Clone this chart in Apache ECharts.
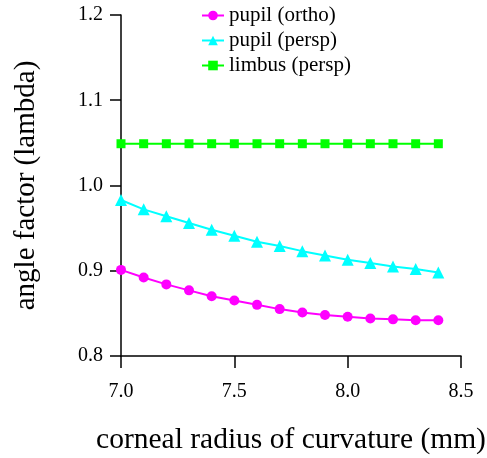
<!DOCTYPE html>
<html><head><meta charset="utf-8">
<script src="https://cdn.jsdelivr.net/npm/echarts@6/dist/echarts.min.js"></script>
<style>html,body{margin:0;padding:0;background:#fff;overflow:hidden}#c{width:487px;height:458px;display:block}</style>
</head><body><div id="c"></div>
<script>
var xValues = [7.0, 7.1, 7.2, 7.3, 7.4, 7.5, 7.6, 7.7, 7.8, 7.9, 8.0, 8.1, 8.2, 8.3, 8.4];
var pupilOrtho = [0.901, 0.892, 0.884, 0.877, 0.870, 0.865, 0.860, 0.855, 0.851, 0.848, 0.846, 0.844, 0.843, 0.842, 0.842];
var pupilPersp = [0.983, 0.972, 0.964, 0.956, 0.948, 0.941, 0.934, 0.929, 0.923, 0.918, 0.913, 0.909, 0.905, 0.902, 0.898];
var limbusPersp = [1.049, 1.049, 1.049, 1.049, 1.049, 1.049, 1.049, 1.049, 1.049, 1.049, 1.049, 1.049, 1.049, 1.049, 1.049];
var seriesNames = ['pupil (ortho)', 'pupil (persp)', 'limbus (persp)'];
var xTicks = [7.0, 7.5, 8.0, 8.5];
var yTicks = [0.8, 0.9, 1.0, 1.1, 1.2];

function pairs(ys){ return xValues.map(function(x,i){ return [x, ys[i]]; }); }
var font = '"Liberation Serif", "DejaVu Serif", serif';
var chart = echarts.init(document.getElementById('c'), null, { width: 487, height: 458 });
chart.setOption({
  animation: false,
  backgroundColor: '#fff',
  textStyle: { fontFamily: font },
  grid: { left: 121, right: 26, top: 15, bottom: 102, containLabel: false, outerBoundsMode: 'none' },
  legend: {
    orient: 'vertical', left: 201, top: 5, padding: 0, itemGap: 4, itemWidth: 22, itemHeight: 12,
    textStyle: { fontFamily: font, fontSize: 21, color: '#000' },
    data: seriesNames
  },
  xAxis: {
    type: 'value', min: 7.0, max: 8.5, interval: 0.5,
    name: 'corneal radius of curvature (mm)', nameLocation: 'middle', nameGap: 69,
    nameTextStyle: { fontFamily: font, fontSize: 29.5, color: '#000' },
    axisLine: { lineStyle: { color: '#000', width: 1.5 } },
    axisTick: { length: 12, lineStyle: { color: '#000', width: 1.5 } },
    axisLabel: { fontFamily: font, fontSize: 20, color: '#000', margin: 26,
      formatter: function(v){ return v.toFixed(1); } },
    splitLine: { show: false }
  },
  yAxis: {
    type: 'value', min: 0.8, max: 1.2, interval: 0.1,
    name: 'angle factor (lambda)', nameLocation: 'middle', nameGap: 80,
    nameTextStyle: { fontFamily: font, fontSize: 29, color: '#000' },
    axisLine: { show: true, lineStyle: { color: '#000', width: 1.5 } },
    axisTick: { show: true, length: 11, lineStyle: { color: '#000', width: 1.5 } },
    axisLabel: { fontFamily: font, fontSize: 20, color: '#000', margin: 18,
      formatter: function(v){ return v.toFixed(1); } },
    splitLine: { show: false }
  },
  series: [
    { name: seriesNames[0], type: 'line', data: pairs(pupilOrtho), color: '#ff00ff',
      symbol: 'circle', symbolSize: 10, lineStyle: { width: 2 }, itemStyle: { color: '#ff00ff' } },
    { name: seriesNames[1], type: 'line', data: pairs(pupilPersp), color: '#00ffff',
      symbol: 'triangle', symbolSize: 12, lineStyle: { width: 2 }, itemStyle: { color: '#00ffff' } },
    { name: seriesNames[2], type: 'line', data: pairs(limbusPersp), color: '#00ff00',
      symbol: 'rect', symbolSize: 9, lineStyle: { width: 2 }, itemStyle: { color: '#00ff00' } }
  ]
});
</script></body></html>
